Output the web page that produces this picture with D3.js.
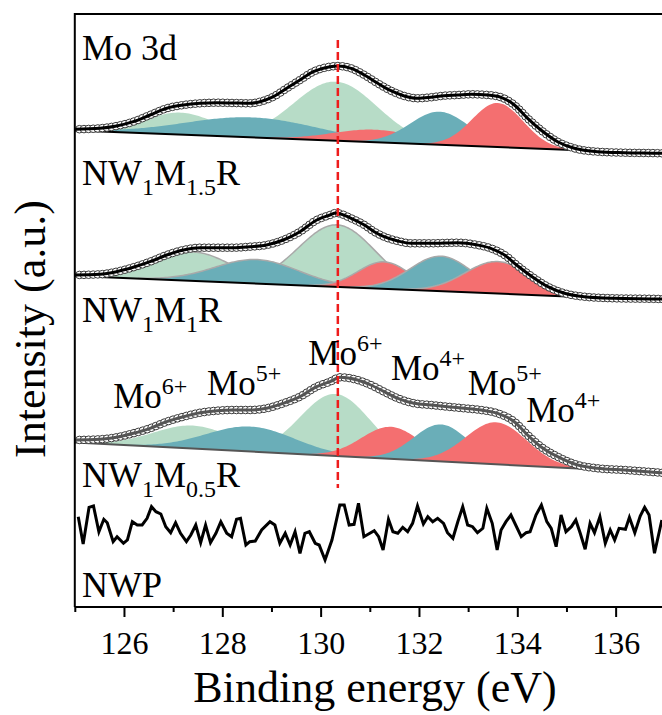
<!DOCTYPE html>
<html><head><meta charset="utf-8">
<script src="https://cdn.jsdelivr.net/npm/d3@7/dist/d3.min.js"></script>
<style>
html,body{margin:0;padding:0;background:#fff;}
svg{display:block;font-family:"Liberation Serif","Times New Roman",serif;}
</style></head>
<body>
<svg id="chart" width="662" height="715"></svg>
<script>
// ---------------- DATA ----------------
// x: binding energy (eV); y: stacked intensity (a.u.)
const xDomain = [125, 137];
const yDomain = [0, 593];
const majorTicks = [126, 128, 130, 132, 134, 136];
const minorTicks = [125, 127, 129, 131, 133, 135, 137];

// fitted envelope (measured spectrum) for each sample, [eV, intensity]
const envTop = [[125.00,477.7],[125.51,478.7],[125.85,481],[126.19,485.3],[126.53,492],[126.87,498.7],[127.21,502],[127.55,503.7],[127.89,504.3],[128.22,504],[128.56,503.7],[128.77,505.3],[129.04,510.3],[129.31,518.7],[129.58,527],[129.85,535.3],[130.19,540.3],[130.35,541],[130.62,538.7],[130.89,532],[131.16,523.7],[131.43,516.3],[131.70,511],[131.97,508.7],[132.24,509.7],[132.51,511.3],[132.79,512],[133.06,512.7],[133.40,512],[133.67,509.7],[133.94,502],[134.21,488.7],[134.48,477],[134.82,465.3],[135.16,458.7],[135.63,455.3],[136.18,454.3],[136.92,453.7],[137.00,453.5]];
const envMid = [[125.00,332],[125.51,332.7],[125.85,335.3],[126.19,339.7],[126.53,345.3],[126.87,352],[127.21,357],[127.55,359.3],[127.89,359.3],[128.22,359.3],[128.56,360.3],[128.90,362],[129.24,367],[129.58,375.3],[129.92,387],[130.19,392],[130.31,394],[130.62,388.7],[130.89,382],[131.09,375.3],[131.29,370.3],[131.57,366],[131.84,363.7],[132.24,363.7],[132.79,364.3],[133.19,362],[133.46,358.7],[133.74,352],[134.01,341],[134.28,331],[134.62,320.3],[134.96,313.7],[135.36,310.3],[135.97,308.7],[136.92,308],[137.00,307.8]];
const envLow = [[125.00,167],[125.51,167.7],[125.85,169.7],[126.19,173.7],[126.53,178.7],[126.87,185.3],[127.21,190.3],[127.55,194.3],[127.89,196.3],[128.22,197],[128.56,197],[128.90,198.7],[129.24,203.7],[129.58,210.3],[129.92,220.3],[130.19,225.3],[130.40,229.7],[130.75,227],[131.02,222],[131.29,215.3],[131.57,208.7],[131.90,203.7],[132.24,202],[132.58,200.3],[132.92,198.7],[133.26,197],[133.60,193.7],[133.94,185.3],[134.21,172],[134.48,160.3],[134.82,150.3],[135.23,142],[135.63,138.7],[136.18,137],[136.92,134.3],[137.00,134]];

// linear backgrounds [eV, intensity] end points
const bgTop = [[125, 476.5], [137, 453.5]];
const bgMid = [[125, 331], [137, 306.5]];
const bgLow = [[125, 164.5], [137, 134]];

// fitted components: [centre eV, height above background, sigma eV]
const peakStates = ["Mo6+", "Mo5+", "Mo6+", "Mo4+", "Mo5+", "Mo4+"];
const peaksTop = [[127.15,22,0.72],[128.6,20,1.35],[130.3,59,0.85],[131.1,12.5,0.85],[132.42,33,0.6],[133.6,44,0.52]];
const peaksMid = [[127.41,29,0.78],[128.7,24,0.85],[130.33,62,0.78],[131.29,27,0.53],[132.45,35,0.63],[133.6,32,0.66]];
const peaksLow = [[127.4,23,0.8],[128.57,25,0.9],[130.3,62,0.71],[131.43,32,0.6],[132.45,37,0.56],[133.57,42,0.62]];

// NWP (no Mo) spectrum
const nwp = [[125.07,90.3],[125.17,63],[125.29,99.7],[125.38,101],[125.49,75.3],[125.59,87.7],[125.66,84.3],[125.78,65.3],[125.86,70.3],[125.99,63.7],[126.07,67],[126.17,85.3],[126.27,82],[126.37,82],[126.47,88.7],[126.56,100.3],[126.65,95.3],[126.75,93],[126.85,80.3],[126.95,74.3],[127.05,84.3],[127.15,73.7],[127.27,65.3],[127.36,72],[127.46,82],[127.56,64.3],[127.66,82],[127.76,64.3],[127.87,73.7],[127.97,85.3],[128.09,73.7],[128.19,70.3],[128.29,87.7],[128.37,88.7],[128.48,62],[128.56,65.3],[128.67,66],[128.80,77],[128.97,85.3],[129.07,82],[129.17,63.7],[129.28,73.7],[129.38,62],[129.48,75.3],[129.58,53.7],[129.68,73.7],[129.77,75.3],[129.89,63.7],[129.97,62],[130.09,47],[130.23,67],[130.39,102],[130.48,102],[130.58,82],[130.68,82.7],[130.77,103.7],[130.88,70.3],[131.09,76.3],[131.18,70.3],[131.27,57],[131.38,87.7],[131.47,75.3],[131.57,73.7],[131.67,79.7],[131.77,75.3],[131.87,83.7],[131.97,101],[132.09,83],[132.18,90.3],[132.28,85.3],[132.38,88.7],[132.50,83.7],[132.58,74.3],[132.69,68.7],[132.79,85.3],[132.89,100.3],[132.99,82],[133.09,80.3],[133.19,74.3],[133.30,78.7],[133.38,98.7],[133.49,83.7],[133.59,57],[133.67,77],[133.77,85.3],[133.87,92],[134.08,70.3],[134.18,74.3],[134.26,75.3],[134.38,92],[134.49,102],[134.60,85.3],[134.69,78.7],[134.79,60.3],[134.89,92],[134.99,75.3],[135.10,80.3],[135.19,87],[135.28,73.7],[135.38,57.7],[135.48,83.7],[135.57,74.3],[135.68,90.3],[135.79,63.7],[135.89,77],[135.98,67],[136.07,78.7],[136.20,77.7],[136.28,89.7],[136.39,74.3],[136.50,91],[136.59,99.7],[136.68,92],[136.79,53.7],[136.94,87]];

const refLineEV = 130.35;

// labels
const sampleLabels = [
  [["NW", 0], ["1", 1], ["M", 0], ["1.5", 1], ["R", 0]],
  [["NW", 0], ["1", 1], ["M", 0], ["1", 1], ["R", 0]],
  [["NW", 0], ["1", 1], ["M", 0], ["0.5", 1], ["R", 0]]
];
const stateLabelText = ["Mo6+", "Mo5+", "Mo6+", "Mo4+", "Mo5+", "Mo4+"];

// ---------------- LAYOUT / STYLE ----------------
const W = 662, H = 715;
const plot = {left: 74.8, right: 664.8, top: 14, bottom: 607};
const colState = {"Mo6+": "#b7dcc7", "Mo5+": "#6aaeb8", "Mo4+": "#f46f70"};
const drawOrder = [0, 2, 1, 3, 4, 5];
const serif = '"Liberation Serif","Times New Roman",serif';
const sampleLabelY = [185, 321.7, 487];
const stateLabelPos = [[125.78, 199], [127.69, 212], [129.75, 242], [131.43, 227], [132.99, 212], [134.18, 185.3]];

const svg = d3.select("#chart");
const x = d3.scaleLinear().domain(xDomain).range([plot.left, plot.right]);
const y = d3.scaleLinear().domain(yDomain).range([plot.bottom, plot.top]);

const bgAt = (bg, e) => bg[0][1] + (bg[1][1] - bg[0][1]) * (e - bg[0][0]) / (bg[1][0] - bg[0][0]);
const gauss = (p, e) => p[1] * Math.exp(-((e - p[0]) ** 2) / (2 * p[2] * p[2]));
const grid = d3.range(xDomain[0], xDomain[1] + 0.0001, 0.04);

const spectra = [
  {env: envTop, bg: bgTop, peaks: peaksTop, line: "#000", outline: null},
  {env: envMid, bg: bgMid, peaks: peaksMid, line: "#000", outline: "#a9a9a9"},
  {env: envLow, bg: bgLow, peaks: peaksLow, line: "#555", outline: null}
];

const g = svg.append("g");
spectra.forEach(s => {
  const gs = g.append("g");
  drawOrder.forEach(i => {
    const p = s.peaks[i];
    const area = d3.area()
      .x(e => x(e)).y0(e => y(bgAt(s.bg, e))).y1(e => y(bgAt(s.bg, e) + gauss(p, e)));
    gs.append("path").datum(grid).attr("d", area).attr("fill", colState[peakStates[i]]);
    if (s.outline) {
      const pts = grid.filter(e => gauss(p, e) > 0.4);
      gs.append("path").datum(pts)
        .attr("d", d3.line().x(e => x(e)).y(e => y(bgAt(s.bg, e) + gauss(p, e))))
        .attr("fill", "none").attr("stroke", s.outline).attr("stroke-width", 1.5);
    }
  });
  gs.append("path").datum(s.bg).attr("d", d3.line().x(d => x(d[0])).y(d => y(d[1])))
    .attr("stroke", s.line).attr("stroke-width", 2).attr("fill", "none");
  const envLine = d3.line().x(d => x(d[0])).y(d => y(d[1])).curve(d3.curveMonotoneX);
  const env = gs.append("path").datum(s.env).attr("d", envLine)
    .attr("fill", "none").attr("stroke", "none");
  const node = env.node();
  const L = node.getTotalLength();
  const cg = gs.append("g");
  for (let l = 0; l <= L; l += 4.6) {
    const pt = node.getPointAtLength(l);
    if (pt.x > plot.left + 1 && pt.x < W + 5)
      cg.append("circle").attr("cx", pt.x).attr("cy", pt.y).attr("r", 3.8)
        .attr("fill", "#fff").attr("stroke", "#3a3a3a").attr("stroke-width", 1);
  }
  gs.append("path").datum(s.env).attr("d", envLine)
    .attr("fill", "none").attr("stroke", s.line).attr("stroke-width", 3);
});

// NWP
g.append("path").datum(nwp).attr("d", d3.line().x(d => x(d[0])).y(d => y(d[1])))
  .attr("fill", "none").attr("stroke", "#000").attr("stroke-width", 3).attr("stroke-linejoin", "miter");

// reference dashed line
g.append("line").attr("x1", x(refLineEV)).attr("x2", x(refLineEV))
  .attr("y1", y(567)).attr("y2", y(119))
  .attr("stroke", "#ee1c1c").attr("stroke-width", 2.5).attr("stroke-dasharray", "8,4");

// frame
svg.append("path").attr("d", `M${plot.left},${plot.bottom}V${plot.top}H${W + 5}`)
  .attr("fill", "none").attr("stroke", "#000").attr("stroke-width", 2);

// x axis
const ax = svg.append("g").attr("transform", `translate(0,${plot.bottom})`)
  .call(d3.axisBottom(x).tickValues(majorTicks).tickSize(10).tickFormat(d3.format("d")));
ax.select(".domain").attr("stroke-width", 2).attr("d", `M${plot.left},0H${W + 5}`);
ax.selectAll(".tick line").attr("stroke-width", 2);
ax.selectAll(".tick text").attr("font-family", serif).attr("font-size", 32)
  .attr("y", 47).attr("dy", 0).attr("fill", "#000");
const axm = svg.append("g").attr("transform", `translate(0,${plot.bottom})`)
  .call(d3.axisBottom(x).tickValues(minorTicks).tickSize(5).tickFormat(""));
axm.select(".domain").remove();
axm.selectAll(".tick line").attr("stroke-width", 2);

svg.append("text").attr("x", 375).attr("y", 702).attr("text-anchor", "middle")
  .attr("font-size", 44).text("Binding energy (eV)");
svg.append("text").attr("transform", "translate(45,329) rotate(-90)").attr("text-anchor", "middle")
  .attr("font-size", 44).text("Intensity (a.u.)");

// sample labels with subscripts
svg.append("text").attr("x", 82).attr("y", 60).attr("font-size", 36).text("Mo 3d");
sampleLabels.forEach((parts, k) => {
  const t = svg.append("text").attr("x", 82).attr("y", sampleLabelY[k]).attr("font-size", 36);
  let shifted = false;
  parts.forEach(([txt, sub]) => {
    let dy = 0;
    if (sub && !shifted) { dy = 10; shifted = true; }
    if (!sub && shifted) { dy = -10; shifted = false; }
    t.append("tspan").attr("font-size", sub ? 24 : 36).attr("dy", dy).text(txt);
  });
});
svg.append("text").attr("x", 82).attr("y", 597).attr("font-size", 36).text("NWP");

// oxidation state labels (placed in data units)
stateLabelText.forEach((s, i) => {
  const t = svg.append("text").attr("x", x(stateLabelPos[i][0])).attr("y", y(stateLabelPos[i][1]))
    .attr("font-size", 35);
  t.append("tspan").text("Mo");
  t.append("tspan").attr("font-size", 24).attr("dy", -14).text(s.slice(2));
});
</script>
</body></html>
